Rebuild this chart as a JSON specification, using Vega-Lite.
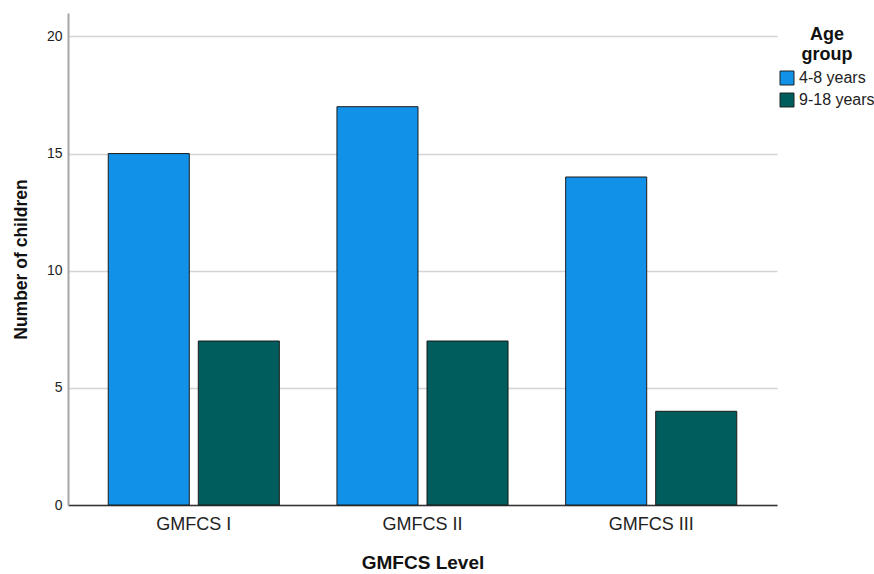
{
  "$schema": "https://vega.github.io/schema/vega-lite/v6.json",
  "width": 709,
  "height": 492,
  "autosize": {"type": "none"},
  "padding": {"left": 68, "top": 13, "right": 97, "bottom": 69},
  "background": "white",
  "config": {
    "view": {"stroke": null},
    "font": "Liberation Sans"
  },
  "data": {
    "values": [
      {"level": "GMFCS I", "age": "4-8 years", "count": 15},
      {"level": "GMFCS I", "age": "9-18 years", "count": 7},
      {"level": "GMFCS II", "age": "4-8 years", "count": 17},
      {"level": "GMFCS II", "age": "9-18 years", "count": 7},
      {"level": "GMFCS III", "age": "4-8 years", "count": 14},
      {"level": "GMFCS III", "age": "9-18 years", "count": 4}
    ]
  },
  "mark": {"type": "bar", "stroke": "#1a1a1a", "strokeWidth": 1},
  "encoding": {
    "x": {
      "field": "level",
      "type": "nominal",
      "sort": ["GMFCS I", "GMFCS II", "GMFCS III"],
      "scale": {"paddingInner": 0, "paddingOuter": 0.05},
      "axis": {
        "title": "GMFCS Level",
        "titleFont": "Liberation Sans",
        "titleFontSize": 19,
        "titleFontWeight": "bold",
        "titleColor": "#111",
        "titlePadding": 20,
        "labelAngle": 0,
        "labelFontSize": 18,
        "labelColor": "#222",
        "labelPadding": 10,
        "ticks": false,
        "domainColor": "#333",
        "domainWidth": 1.5,
        "grid": false
      }
    },
    "xOffset": {
      "field": "age",
      "type": "nominal",
      "scale": {"paddingInner": 0.1, "paddingOuter": 0.32}
    },
    "y": {
      "field": "count",
      "type": "quantitative",
      "scale": {"domain": [0, 21], "nice": false},
      "axis": {
        "title": "Number of children",
        "titleFontSize": 17.5,
        "titleFontWeight": "bold",
        "titleColor": "#111",
        "titlePadding": 16,
        "values": [0, 5, 10, 15, 20],
        "labelFontSize": 14,
        "labelColor": "#222",
        "labelPadding": 6,
        "ticks": false,
        "domainColor": "#a6a6a6",
        "domainWidth": 2,
        "gridColor": "#d4d4d4",
        "gridWidth": 1.5
      }
    },
    "color": {
      "field": "age",
      "type": "nominal",
      "scale": {"domain": ["4-8 years", "9-18 years"], "range": ["#1192e8", "#005d5d"]},
      "legend": {
        "title": ["Age", "group"],
        "orient": "none",
        "legendX": 711,
        "legendY": 13,
        "titleFontSize": 18,
        "titleFontWeight": "bold",
        "titleColor": "#111",
        "titleAnchor": "middle",
        "titleAlign": "center",
        "titleLineHeight": 20,
        "titlePadding": 6,
        "symbolType": "square",
        "symbolSize": 196,
        "symbolStrokeColor": "#222",
        "symbolStrokeWidth": 1,
        "symbolOpacity": 1,
        "labelFontSize": 16,
        "labelColor": "#222",
        "labelOffset": 4,
        "rowPadding": 4
      }
    }
  }
}
